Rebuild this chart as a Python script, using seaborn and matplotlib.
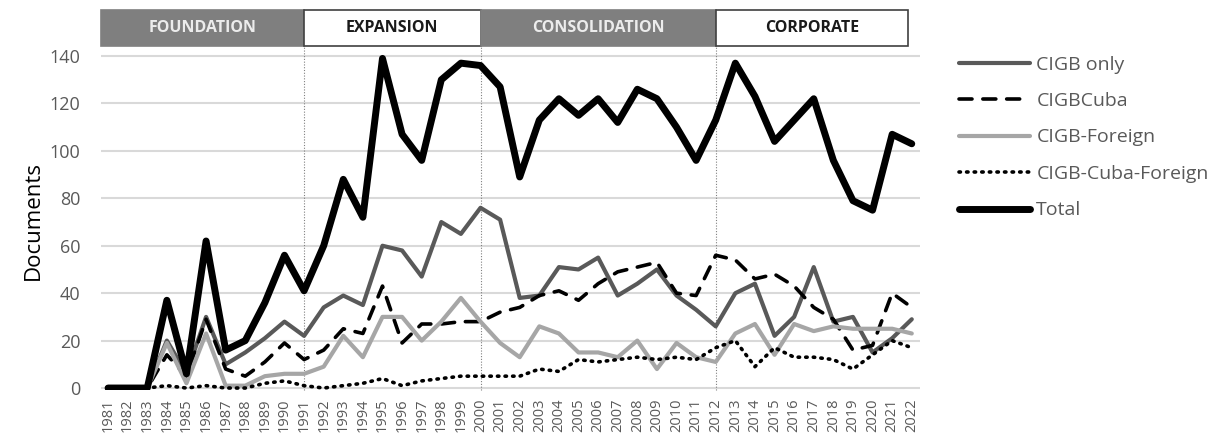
import numpy as np
import pandas as pd
import matplotlib
matplotlib.use("Agg")
import matplotlib.pyplot as plt
import seaborn as sns
from matplotlib.lines import Line2D
import matplotlib.transforms as mtransforms

years = list(range(1981, 2023))
cigb_only = [0, 0, 0, 20, 6, 30, 10, 15, 21, 28, 22, 34, 39, 35, 60, 58, 47, 70, 65, 76,
             71, 38, 39, 51, 50, 55, 39, 44, 50, 39, 33, 26, 40, 44, 22, 30, 51, 28, 30, 15, 21, 29]
cigb_cuba = [0, 0, 0, 14, 5, 29, 8, 5, 11, 19, 12, 16, 25, 23, 43, 19, 27, 27, 28, 28,
             32, 34, 39, 41, 37, 44, 49, 51, 53, 40, 39, 56, 54, 46, 48, 43, 34, 29, 16, 18, 40, 34]
cigb_foreign = [0, 0, 0, 19, 2, 23, 1, 1, 5, 6, 6, 9, 22, 13, 30, 30, 20, 28, 38, 28,
                19, 13, 26, 23, 15, 15, 13, 20, 8, 19, 13, 11, 23, 27, 14, 27, 24, 26, 25, 25, 25, 23]
cigb_cuba_foreign = [0, 0, 0, 1, 0, 1, 0, 0, 2, 3, 1, 0, 1, 2, 4, 1, 3, 4, 5, 5,
                     5, 5, 8, 7, 12, 11, 12, 13, 12, 13, 12, 17, 20, 9, 17, 13, 13, 12, 8, 14, 20, 17]
total = [0, 0, 0, 37, 6, 62, 16, 20, 36, 56, 41, 60, 88, 72, 139, 107, 96, 130, 137, 136,
         127, 89, 113, 122, 115, 122, 112, 126, 122, 110, 96, 113, 137, 123, 104, 113, 122, 96, 79, 75, 107, 103]

series_names = ["CIGB only", "CIGBCuba", "CIGB-Foreign", "CIGB-Cuba-Foreign", "Total"]
series_values = [cigb_only, cigb_cuba, cigb_foreign, cigb_cuba_foreign, total]

periods = ["FOUNDATION", "EXPANSION", "CONSOLIDATION", "CORPORATE"]
period_starts = [1981, 1991, 2000, 2012]
period_ends = [1991, 2000, 2012, 2022]

styles = {
    "CIGB only": dict(color="#595959", lw=3.0, ls="-"),
    "CIGBCuba": dict(color="#000000", lw=2.6, ls=(0, (3.6, 3.0))),
    "CIGB-Foreign": dict(color="#a6a6a6", lw=3.0, ls="-"),
    "CIGB-Cuba-Foreign": dict(color="#000000", lw=2.6, ls=(0, (0.4, 1.7))),
    "Total": dict(color="#000000", lw=5.0, ls="-"),
}

sns.set_theme(style="white")
plt.rcParams['font.family'] = ['Open Sans', 'DejaVu Sans']

fig = plt.figure(figsize=(12.32, 4.43), dpi=100)
ax = fig.add_axes([101/1232, (443-390.4)/443, 819/1232, (390.4-51.3)/443])

idx = np.arange(len(years))
for name, vals in zip(series_names, series_values):
    st = styles[name]
    df = pd.DataFrame({"x": idx, "y": vals})
    sns.lineplot(data=df, x="x", y="y", ax=ax, color=st["color"], linewidth=st["lw"],
                 linestyle=st["ls"], solid_capstyle="round", dash_capstyle="round",
                 solid_joinstyle="round", zorder=3, legend=False)

ax.set_xlim(-0.36, 41.42)
ax.set_ylim(-1, 142)
ax.set_yticks(range(0, 141, 20))
ax.yaxis.grid(True, color="#d9d9d9", lw=1.5)
ax.xaxis.grid(False)
for s in ax.spines.values():
    s.set_visible(False)
ax.set_xticks(idx)
ax.set_xticklabels([str(y) for y in years], rotation=90, fontsize=10.5, color="#595959")
ax.tick_params(axis="y", labelsize=13, colors="#595959", pad=15, length=0)
ax.tick_params(axis="x", length=0, pad=6)
ax.set_xlabel("")
ax.set_ylabel("Documents", fontsize=16, color="#000000", labelpad=4)

# period boundaries and header band
trans = mtransforms.blended_transform_factory(ax.transData, ax.transAxes)
band_y0, band_y1 = 1.0156, 1.1218
for i, (p, s, e) in enumerate(zip(periods, period_starts, period_ends)):
    x0 = years.index(s) if i > 0 else -0.36
    x1 = years.index(e) if i < len(periods) - 1 else 40.8
    gray = (i % 2 == 0)
    rect = plt.Rectangle((x0, band_y0), x1 - x0, band_y1 - band_y0, transform=trans,
                         facecolor="#7f7f7f" if gray else "white",
                         edgecolor="#7f7f7f" if gray else "#404040", lw=1.2, clip_on=False, zorder=4)
    ax.add_patch(rect)
    ax.text((x0 + x1) / 2, (band_y0 + band_y1) / 2, p, transform=trans, ha="center", va="center",
            fontsize=11.5, fontweight="bold", color="#ececec" if gray else "#1a1a1a", zorder=5)
    if i > 0:
        ax.plot([x0, x0], [0, band_y1], transform=trans, color="#808080", lw=0.8,
                ls=(0, (1, 1.5)), clip_on=False, zorder=2)

handles = [Line2D([0], [0], color=styles[n]["color"], lw=styles[n]["lw"], ls=styles[n]["ls"],
                  solid_capstyle="round", dash_capstyle="round") for n in series_names]
leg = fig.legend(handles, series_names, loc="upper left", bbox_to_anchor=(941/1232, 1 - 38/443),
                 frameon=False, fontsize=14, handlelength=3.7, handletextpad=0.3,
                 labelspacing=0.95, labelcolor="#595959")

fig.savefig("out.png", dpi=100)
